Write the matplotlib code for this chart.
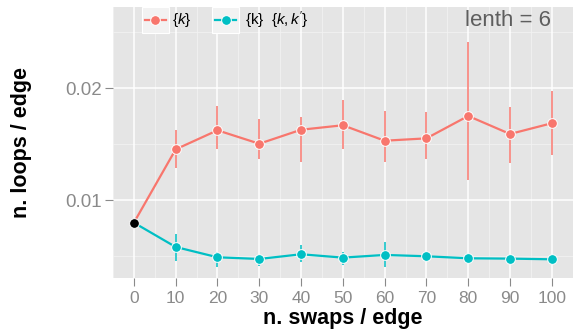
import matplotlib
matplotlib.use("Agg")
import matplotlib.pyplot as plt
from matplotlib.lines import Line2D
from matplotlib.patches import Rectangle

plt.rcParams["font.family"] = ["Liberation Sans", "DejaVu Sans"]
plt.rcParams["mathtext.fontset"] = "custom"
plt.rcParams["mathtext.rm"] = "Liberation Sans"
plt.rcParams["mathtext.it"] = "Liberation Sans:italic"

# swaps per edge
swaps = [0, 10, 20, 30, 40, 50, 60, 70, 80, 90, 100]

# loops per edge, single-k swaps
k_mean = [0.0080, 0.01455, 0.01625, 0.01505, 0.0163, 0.0167, 0.01532, 0.01553, 0.01753, 0.01592, 0.01688]
k_lo = [0.0080, 0.01286, 0.01455, 0.01366, 0.01345, 0.01458, 0.01339, 0.01372, 0.01181, 0.01336, 0.01407]
k_hi = [0.0080, 0.01628, 0.01842, 0.01729, 0.01744, 0.01898, 0.01797, 0.01788, 0.02416, 0.01833, 0.01976]

# loops per edge, mixed k / k,k' swaps
kk_mean = [0.0080, 0.00583, 0.00491, 0.00476, 0.00518, 0.00488, 0.00512, 0.00500, 0.00482, 0.00479, 0.00473]
kk_lo = [0.0080, 0.00455, 0.00402, 0.00416, 0.00452, 0.00422, 0.00407, 0.00490, 0.00470, 0.00455, 0.00462]
kk_hi = [0.0080, 0.00696, 0.00536, 0.00505, 0.00598, 0.00541, 0.00628, 0.00512, 0.00494, 0.00500, 0.00484]

start_value = 0.0080

RED = "#F8766D"
CYAN = "#00BFC4"
TICK_GREY = "#8A8A8A"

fig = plt.figure(figsize=(5.77, 3.36), dpi=100)
L, R, T, B = 113, 572.7, 7, 278
W, H = 577, 336
ax = fig.add_axes([L / W, 1 - B / H, (R - L) / W, (B - T) / H])
ax.set_facecolor("#E5E5E5")
for s in ax.spines.values():
    s.set_visible(False)

ax.set_xlim(-5, 105)
ax.set_ylim(0.00306, 0.02726)

# grid
for xv in range(-5, 110, 10):
    ax.axvline(xv, color="#F2F2F2", lw=0.6, zorder=0)
for yv in [0.005, 0.015, 0.025]:
    ax.axhline(yv, color="#F2F2F2", lw=0.6, zorder=0)
for xv in swaps:
    ax.axvline(xv, color="white", lw=1.1, zorder=0.5)
for yv in [0.01, 0.02]:
    ax.axhline(yv, color="white", lw=1.1, zorder=0.5)

ax.set_xticks(swaps)
ax.set_xticklabels([str(v) for v in swaps])
ax.set_yticks([0.01, 0.02])
ax.set_yticklabels(["0.01", "0.02"])
ax.tick_params(axis="both", colors=TICK_GREY, labelcolor=TICK_GREY,
               length=5.5, width=0.8)
ax.tick_params(axis="x", labelsize=12.5, pad=4)
ax.tick_params(axis="y", labelsize=13.5, pad=2.4)

for mean, lo, hi, col in [(k_mean, k_lo, k_hi, RED), (kk_mean, kk_lo, kk_hi, CYAN)]:
    ax.vlines(swaps[1:], lo[1:], hi[1:], color=col, lw=1.1, zorder=2)
    ax.plot(swaps, mean, color=col, lw=1.6, zorder=3)
    ax.plot(swaps[1:], mean[1:], ls="none", marker="o", ms=7, color=col,
            mec="white", mew=0.7, zorder=4)
ax.plot([0], [start_value], ls="none", marker="o", ms=7, color="black",
        mec="white", mew=0.7, zorder=5)

ax.set_xlabel("n. swaps / edge", fontsize=15.5, fontweight="bold", labelpad=1)
ax.set_ylabel("n. loops / edge", fontsize=15.5, fontweight="bold", va="center")
ax.yaxis.set_label_coords((21.0 - L) / (R - L), 0.5)

ax.text(550.7 / W, 1 - 20 / H, "lenth = 6", transform=fig.transFigure,
        ha="right", va="center", fontsize=16, color="#5E5E5E")

# legend keys
def fx(px):
    return px / W

def fy(py):
    return 1 - py / H

keys = [(141.7, RED, r"$\{k\}$", 172.5), (212.0, CYAN, r"$\{\mathrm{k}\}\ \ \{k,k'\}$", 245.0)]
for x0, col, label, tx in keys:
    fig.patches.append(Rectangle((fx(x0), fy(33)), 27 / W, 26 / H, transform=fig.transFigure,
                                 facecolor="#F2F2F2", edgecolor="white", lw=0.8, zorder=6))
    fig.lines.append(Line2D([fx(x0 + 3), fx(x0 + 24)], [fy(20), fy(20)], transform=fig.transFigure,
                            color=col, lw=1.6, zorder=7))
    fig.lines.append(Line2D([fx(x0 + 13.5)], [fy(20)], transform=fig.transFigure, ls="none",
                            marker="o", ms=7, color=col, mec="white", mew=0.7, zorder=8))
    fig.text(fx(tx), fy(20), label, ha="left", va="center", fontsize=11, color="black")

fig.savefig("out.png", dpi=100)
